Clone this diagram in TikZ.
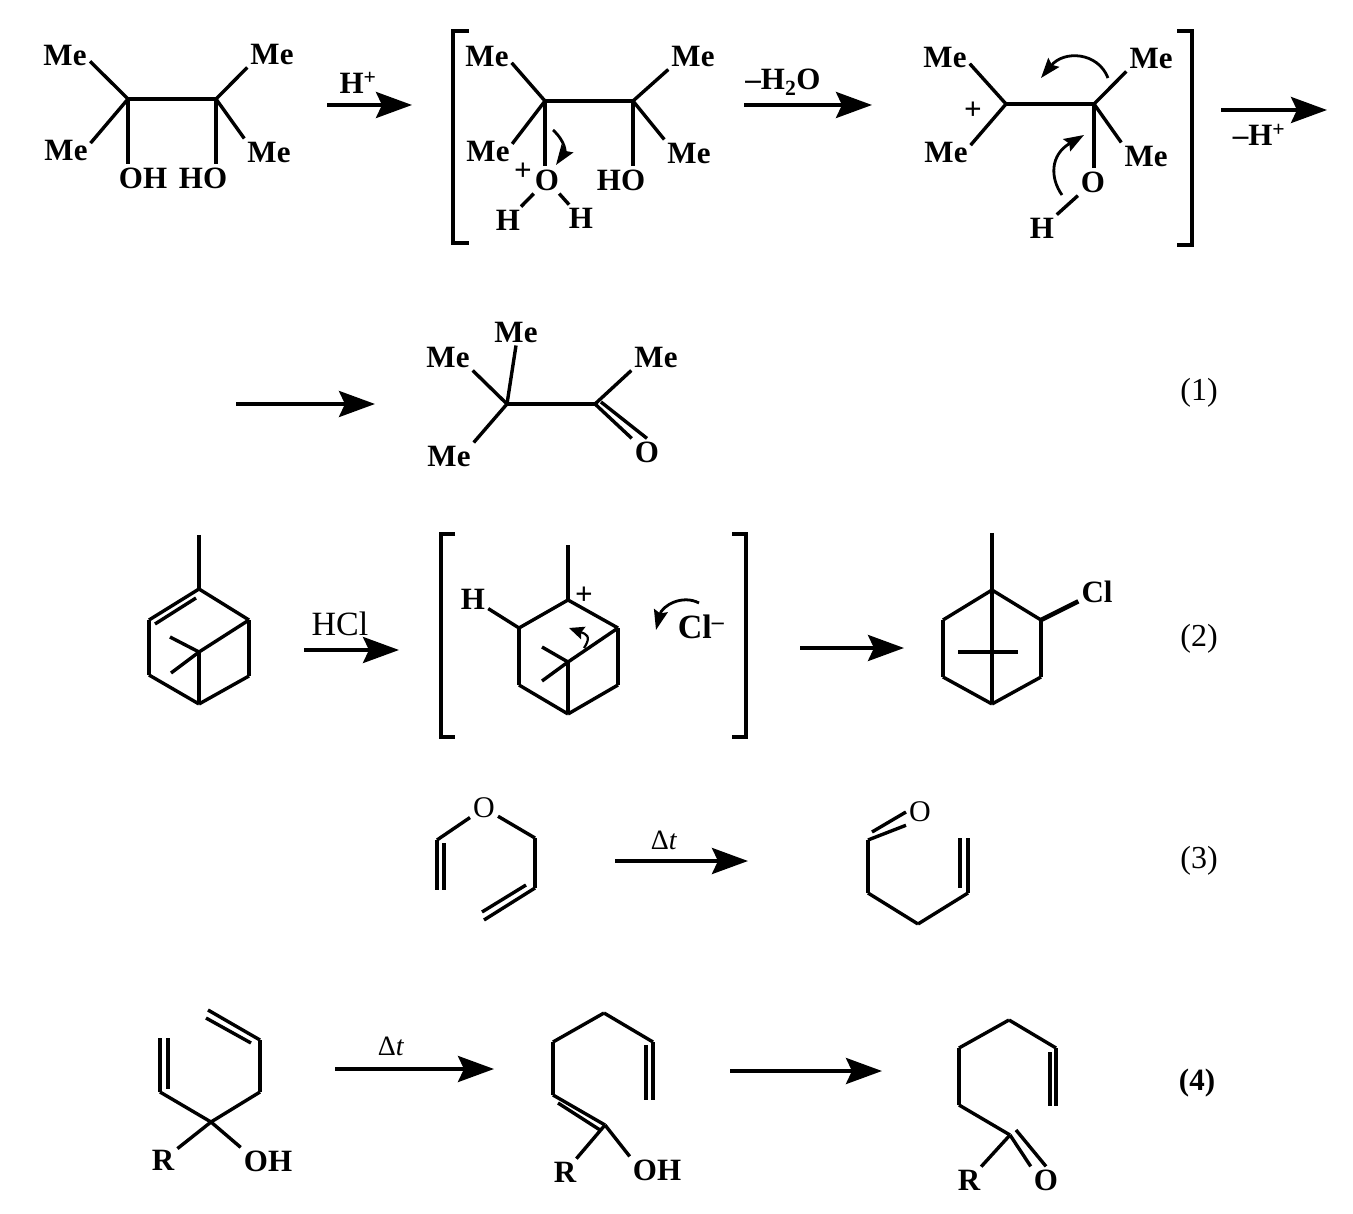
\documentclass[tikz,border=0pt]{standalone}
\usepackage{fontspec}
\setmainfont{Liberation Serif}
\usetikzlibrary{arrows.meta}
\tikzset{
	bond/.style={line width=3.4pt},
	atom/.style={inner sep=3pt,font=\fontsize{31}{31}\selectfont\bfseries},
	note/.style={inner sep=1pt,font=\fontsize{32}{32}\selectfont},
	rxn/.style={->,line width=3.8pt,>={Stealth[length=36pt,width=26pt,inset=6pt]}},
	push/.style={->,line width=2.8pt,>={Stealth[length=20pt,width=14pt,inset=3pt]}},
	bracket/.style={line width=3.8pt},
	tome/.style={shorten >=9pt}
}

\begin{document}
\begin{tikzpicture}[x=1pt,y=-1pt]
	\useasboundingbox (0,0) rectangle (1353,1214);
	% diol
	\coordinate (dA) at (128,99);
	\coordinate (dB) at (216,99);
	\node[atom] (dM1) at (65,55) {Me};
	\node[atom] (dM2) at (272,54) {Me};
	\node[atom] (dM3) at (66,150) {Me};
	\node[atom] (dM4) at (269,152) {Me};
	\node[atom] (dOH) at (143,178) {OH};
	\node[atom] (dHO) at (203,178) {HO};
	\path[bond]
	(dA) edge (dB)
		edge[tome] ([xshift=-6pt]dM1.east)
		edge[tome] ([xshift=-6pt]dM3.east)
		edge (dA |- dOH.north)
	(dB) edge (dM2.south west)
		edge (dM4.north west)
		edge (dB |- dHO.north);
	%
	\coordinate (r1a) at (327,105);
	\coordinate (r1b) at (412,105);
	\node[atom] (r1t) at (358,83) {H\textsuperscript{+}};
	\path[rxn] (r1a) edge (r1b);
	% protonated
	\draw[bracket] (469,31) -- (453,31) -- (453,243) -- (469,243);
	\coordinate (pA) at (545,101);
	\coordinate (pB) at (633,101);
	\node[atom] (pM1) at (487,56) {Me};
	\node[atom] (pM2) at (693,56) {Me};
	\node[atom] (pM3) at (488,151) {Me};
	\node[atom] (pM4) at (689,153) {Me};
	\node[atom] (pO) at (547,180) {O};
	\node[atom] (pHO) at (621,180) {HO};
	\node[atom] (pH1) at (508,220) {H};
	\node[atom] (pH2) at (581,218) {H};
	\node[atom] () at (523,172) {+};
	\path[bond]
	(pA) edge (pB)
		edge[tome] ([xshift=-6pt]pM1.east)
		edge[tome] ([xshift=-6pt]pM3.east)
		edge (pA |- pO.north)
	(pB) edge (pM2.south west)
		edge (pM4.north west)
		edge (pB |- pHO.north)
	(pO) edge (pH1)
		edge (pH2);
	\coordinate (p1a) at (553,130);
	\coordinate (p1b) at (556,165);
	\draw[push] (p1a) .. controls (566,142) and (565,152) .. (p1b);
	%
	\coordinate (r2a) at (744,105);
	\coordinate (r2b) at (872,105);
	\node[atom] (r2t) at (783,82) {--H\textsubscript{2}O};
	\path[rxn] (r2a) edge (r2b);
	% cation
	\coordinate (cA) at (1006,104);
	\coordinate (cB) at (1094,104);
	\node[atom] (cM1) at (945,57) {Me};
	\node[atom] (cM2) at (1151,58) {Me};
	\node[atom] (cM3) at (946,152) {Me};
	\node[atom] (cM4) at (1146,156) {Me};
	\node[atom] (cO) at (1093,182) {O};
	\node[atom] (cH) at (1042,228) {H};
	\node[atom] () at (973,111) {+};
	\path[bond]
	(cA) edge (cB)
		edge[tome] ([xshift=-6pt]cM1.east)
		edge[tome] ([xshift=-6pt]cM3.east)
	(cB) edge (cM2.south west)
		edge (cM4.north west)
		edge (cB |- cO.north)
	(cO) edge (cH);
	\coordinate (c1a) at (1108,78);
	\coordinate (c1b) at (1041,78);
	\coordinate (c2a) at (1062,195);
	\coordinate (c2b) at (1084,135);
	\draw[push] (c1a) .. controls (1098,52) and (1064,50) .. (c1b);
	\draw[push] (c2a) .. controls (1050,178) and (1050,155) .. (c2b);
	\draw[bracket] (1177,31) -- (1192,31) -- (1192,245) -- (1177,245);
	%
	\coordinate (r3a) at (1221,110);
	\coordinate (r3b) at (1327,110);
	\node[atom] (r3t) at (1259,135) {--H\textsuperscript{+}};
	\path[rxn] (r3a) edge (r3b);
	% ketone
	\coordinate (r4a) at (236,404);
	\coordinate (r4b) at (375,404);
	\path[rxn] (r4a) edge (r4b);
	\coordinate (kA) at (507,404);
	\coordinate (kB) at (595,404);
	\coordinate (kC) at (601,402);
	\node[atom] (kM1) at (516,332) {Me};
	\node[atom] (kM2) at (448,357) {Me};
	\node[atom] (kM3) at (449,456) {Me};
	\node[atom] (kM4) at (656,357) {Me};
	\node[atom] (kO) at (647,452) {O};
	\path[bond]
	(kA) edge (kB)
		edge (kM1.south)
		edge (kM2.south east)
		edge (kM3.north east)
	(kB) edge (kM4.south west)
		edge (kO.north west)
	(kC) edge (kO.north);
	\node[note] (n1) at (1199,393) {(1)};
	% pinene
	\coordinate (aT) at (199,535);
	\coordinate (a1) at (199,589);
	\coordinate (a2) at (149,620);
	\coordinate (a3) at (149,675);
	\coordinate (a4) at (199,704);
	\coordinate (a5) at (249,676);
	\coordinate (a6) at (249,620);
	\coordinate (a7) at (199,652);
	\coordinate (a8) at (170,637);
	\coordinate (a9) at (171,673);
	\coordinate (a10) at (155,624);
	\coordinate (a11) at (196,598);
	\path[bond]
	(aT) edge (a1)
	(a1) edge (a2) edge (a6)
	(a2) edge (a3)
	(a3) edge (a4)
	(a4) edge (a5) edge (a7)
	(a5) edge (a6)
	(a6) edge (a7)
	(a7) edge (a8) edge (a9)
	(a10) edge (a11);
	%
	\coordinate (r5a) at (304,650);
	\coordinate (r5b) at (399,650);
	\node[note,font=\fontsize{34}{34}\selectfont] (r5t) at (340,624) {HCl};
	\path[rxn] (r5a) edge (r5b);
	% carbocation
	\draw[bracket] (455,534) -- (441,534) -- (441,737) -- (455,737);
	\coordinate (bT) at (568,545);
	\coordinate (b1) at (568,600);
	\coordinate (b2) at (519,628);
	\coordinate (b3) at (519,685);
	\coordinate (b4) at (568,714);
	\coordinate (b5) at (618,685);
	\coordinate (b6) at (618,628);
	\coordinate (b7) at (568,662);
	\coordinate (b8) at (542,647);
	\coordinate (b9) at (542,681);
	\node[atom] (bH) at (473,599) {H};
	\node[atom] () at (584,596) {+};
	\node[atom,font=\fontsize{34}{34}\selectfont\bfseries] (bCl) at (701,627) {Cl\textsuperscript{--}};
	\path[bond]
	(bT) edge (b1)
	(b1) edge (b2) edge (b6)
	(b2) edge (b3) edge (bH)
	(b3) edge (b4)
	(b4) edge (b5) edge (b7)
	(b5) edge (b6)
	(b6) edge (b7)
	(b7) edge (b8) edge (b9);
	\coordinate (b1a) at (584,648);
	\coordinate (b1b) at (569,628);
	\coordinate (b2a) at (699,603);
	\coordinate (b2b) at (656,630);
	\draw[push,line width=2.2pt,>={Stealth[length=15pt,width=13pt,inset=2pt]}] (b1a) .. controls (592,636) and (586,634) .. (b1b);
	\draw[push] (b2a) .. controls (682,594) and (662,606) .. (b2b);
	\draw[bracket] (732,534) -- (746,534) -- (746,737) -- (732,737);
	%
	\coordinate (r6a) at (800,648);
	\coordinate (r6b) at (904,648);
	\path[rxn] (r6a) edge (r6b);
	% chloride
	\coordinate (eT) at (992,533);
	\coordinate (e1) at (992,590);
	\coordinate (e2) at (943,620);
	\coordinate (e3) at (943,677);
	\coordinate (e4) at (992,704);
	\coordinate (e5) at (1041,677);
	\coordinate (e6) at (1041,620);
	\coordinate (e7) at (958,652);
	\coordinate (e8) at (1018,652);
	\node[atom] (eCl) at (1097,592) {Cl};
	\path[bond]
	(eT) edge (e4)
	(e1) edge (e2) edge (e6)
	(e2) edge (e3)
	(e3) edge (e4)
	(e4) edge (e5)
	(e5) edge (e6)
	(e6) edge[line width=4.5pt] (eCl)
	(e7) edge (e8);
	\node[note] (n2) at (1199,639) {(2)};
	% allyl vinyl ether
	\node[atom,font=\fontsize{30}{30}\selectfont] (fO) at (484,808) {O};
	\coordinate (f1) at (437,840);
	\coordinate (f2) at (437,890);
	\coordinate (f3) at (444,843);
	\coordinate (f4) at (444,890);
	\coordinate (f5) at (535,838);
	\coordinate (f6) at (535,888);
	\coordinate (f7) at (484,920);
	\coordinate (f8) at (482,912);
	\coordinate (f9) at (526,885);
	\path[bond]
	(fO) edge (f1) edge (f5)
	(f1) edge (f2)
	(f3) edge (f4)
	(f5) edge (f6)
	(f6) edge (f7)
	(f8) edge (f9);
	%
	\coordinate (r7a) at (615,861);
	\coordinate (r7b) at (748,861);
	\node[note,font=\fontsize{28}{28}\selectfont] (r7t) at (664,840) {Δ\textit{t}};
	\path[rxn] (r7a) edge (r7b);
	% aldehyde
	\node[atom,font=\fontsize{30}{30}\selectfont] (gO) at (920,812) {O};
	\coordinate (g1) at (868,840);
	\coordinate (g2) at (868,893);
	\coordinate (g3) at (918,924);
	\coordinate (g4) at (968,893);
	\coordinate (g5) at (968,838);
	\coordinate (g6) at (960,838);
	\coordinate (g7) at (960,888);
	\coordinate (g8) at (872,832);
	\path[bond]
	(g1) edge (gO.south west) edge (g2)
	(g8) edge (gO.west)
	(g2) edge (g3)
	(g3) edge (g4)
	(g4) edge (g5)
	(g6) edge (g7);
	\node[note] (n3) at (1199,861) {(3)};
	% dienol
	\node[atom] (hR) at (163,1160) {R};
	\node[atom] (hOH) at (268,1161) {OH};
	\coordinate (h1) at (211,1122);
	\coordinate (h2) at (160,1092);
	\coordinate (h3) at (160,1038);
	\coordinate (h4) at (168,1038);
	\coordinate (h5) at (168,1089);
	\coordinate (h6) at (260,1092);
	\coordinate (h7) at (260,1040);
	\coordinate (h8) at (208,1010);
	\coordinate (h9) at (206,1018);
	\coordinate (h10) at (251,1043);
	\path[bond]
	(h1) edge (hR) edge (hOH.north west) edge (h2) edge (h6)
	(h2) edge (h3)
	(h4) edge (h5)
	(h6) edge (h7)
	(h7) edge (h8)
	(h9) edge (h10);
	%
	\coordinate (r8a) at (335,1069);
	\coordinate (r8b) at (494,1069);
	\node[note,font=\fontsize{28}{28}\selectfont] (r8t) at (391,1046) {Δ\textit{t}};
	\path[rxn] (r8a) edge (r8b);
	% enol
	\node[atom] (iR) at (565,1172) {R};
	\node[atom] (iOH) at (657,1170) {OH};
	\coordinate (i1) at (605,1125);
	\coordinate (i2) at (553,1095);
	\coordinate (i3) at (553,1042);
	\coordinate (i4) at (604,1013);
	\coordinate (i5) at (653,1042);
	\coordinate (i6) at (653,1100);
	\coordinate (i7) at (646,1045);
	\coordinate (i8) at (646,1100);
	\coordinate (i9) at (558,1103);
	\coordinate (i10) at (600,1130);
	\path[bond]
	(i1) edge (iR) edge (iOH.north west) edge (i2)
	(i2) edge (i3)
	(i3) edge (i4)
	(i4) edge (i5)
	(i5) edge (i6)
	(i7) edge (i8)
	(i9) edge (i10);
	%
	\coordinate (r9a) at (730,1071);
	\coordinate (r9b) at (882,1071);
	\path[rxn] (r9a) edge (r9b);
	% final ketone
	\node[atom] (jR) at (969,1180) {R};
	\node[atom] (jO) at (1046,1180) {O};
	\coordinate (j1) at (1010,1135);
	\coordinate (j2) at (959,1105);
	\coordinate (j3) at (959,1048);
	\coordinate (j4) at (1009,1020);
	\coordinate (j5) at (1056,1048);
	\coordinate (j6) at (1056,1106);
	\coordinate (j7) at (1050,1052);
	\coordinate (j8) at (1050,1106);
	\coordinate (j9) at (1016,1130);
	\path[bond]
	(j1) edge (jR) edge (jO.north west) edge (j2)
	(j2) edge (j3)
	(j3) edge (j4)
	(j4) edge (j5)
	(j5) edge (j6)
	(j7) edge (j8)
	(j9) edge (jO.north);
	\node[note,font=\fontsize{31}{31}\selectfont\bfseries] (n4) at (1197,1083) {(4)};
\end{tikzpicture}
\end{document}
